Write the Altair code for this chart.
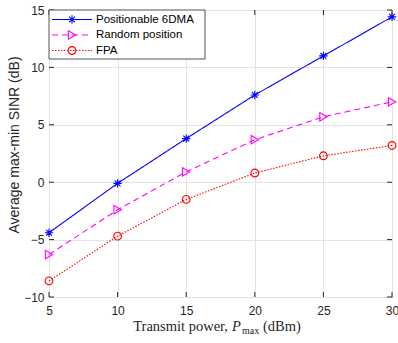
import altair as alt
import pandas as pd

# Transmit power (dBm) and average max-min SINR (dB) for each scheme
power = [5, 10, 15, 20, 25, 30]
sinr_6dma = [-4.4, -0.1, 3.8, 7.6, 11.0, 14.4]
sinr_random = [-6.3, -2.4, 0.9, 3.7, 5.7, 7.0]
sinr_fpa = [-8.6, -4.7, -1.5, 0.8, 2.3, 3.2]

series_names = ["Positionable 6DMA", "Random position", "FPA"]
x_ticks = [5, 10, 15, 20, 25, 30]
y_ticks = [-10, -5, 0, 5, 10, 15]

W, H = 343, 287
AXIS_COLOR = "#262626"
SANS = "Liberation Sans"
SERIF = "Liberation Serif"

# Asterisk marker (8 arms) as a custom symbol path
ASTERISK = "M-1,0L1,0M0,-1L0,1M-0.7,-0.7L0.7,0.7M-0.7,0.7L0.7,-0.7"

styles = [
    dict(name=series_names[0], y=sinr_6dma, color="#0000ff", dash=[1, 0], shape=ASTERISK, size=70),
    dict(name=series_names[1], y=sinr_random, color="#ff00ff", dash=[6, 4], shape="triangle-right", size=70),
    dict(name=series_names[2], y=sinr_fpa, color="#ff0000", dash=[1.5, 1.5], shape="circle", size=60),
]

x_scale = alt.Scale(domain=[5, 30], nice=False, zero=False)
y_scale = alt.Scale(domain=[-10, 15], nice=False, zero=False)

x_axis = alt.Axis(values=x_ticks, grid=True, ticks=False, domain=False, title=None,
                  labelFont=SANS, labelFontSize=12, labelColor=AXIS_COLOR, labelPadding=8,
                  gridColor="#e3e3e3", labelFlush=False)
y_axis = alt.Axis(values=y_ticks, grid=True, ticks=False, domain=False,
                  title="Average max-min SINR (dB)", titleFont=SANS, titleFontSize=14,
                  titleFontWeight="normal", titleColor=AXIS_COLOR,
                  titleX=-34.5, titleY=134.5, titleAngle=270, titleBaseline="middle",
                  titleAlign="center",
                  labelFont=SANS, labelFontSize=12, labelColor=AXIS_COLOR, labelPadding=5,
                  gridColor="#e3e3e3", labelFlush=False)


def xq(field):
    return alt.X(field, type="quantitative", scale=x_scale, axis=x_axis, title=None)


def yq(field):
    return alt.Y(field, type="quantitative", scale=y_scale, axis=y_axis,
                 title="Average max-min SINR (dB)")


layers = []

# Curves with markers
for s in styles:
    df = pd.DataFrame({"power": power, "sinr": s["y"]})
    enc = dict(x=xq("power"), y=yq("sinr"))
    line = alt.Chart(df).mark_line(color=s["color"], strokeWidth=1.1,
                                   strokeDash=s["dash"]).encode(**enc)
    pts = alt.Chart(df).mark_point(shape=s["shape"], size=s["size"], filled=False,
                                   color=s["color"], strokeWidth=1.1, opacity=1).encode(**enc)
    layers += [line, pts]

# Inward tick marks on all four sides
xt = pd.DataFrame({"power": x_ticks})
yt = pd.DataFrame({"sinr": y_ticks})
TL = 5
for y0, y1 in [(H, H - TL), (0, TL)]:
    layers.append(alt.Chart(xt).mark_rule(color=AXIS_COLOR, strokeWidth=1).encode(
        x=xq("power"), y=alt.value(y0), y2=alt.value(y1)))
for x0, x1 in [(0, TL), (W, W - TL)]:
    layers.append(alt.Chart(yt).mark_rule(color=AXIS_COLOR, strokeWidth=1).encode(
        y=yq("sinr"), x=alt.value(x0), x2=alt.value(x1)))

# Legend box
one = pd.DataFrame({"k": [0]})
layers.append(alt.Chart(one).mark_rect(fill="white", stroke=AXIS_COLOR, strokeWidth=0.8).encode(
    x=alt.value(0), x2=alt.value(156), y=alt.value(0), y2=alt.value(49)))
rows_y = [9.5, 25, 40.5]
for s, ry in zip(styles, rows_y):
    layers.append(alt.Chart(one).mark_rule(color=s["color"], strokeWidth=1.1,
                                           strokeDash=s["dash"]).encode(
        x=alt.value(3), x2=alt.value(43), y=alt.value(ry)))
    layers.append(alt.Chart(one).mark_point(shape=s["shape"], size=s["size"], filled=False,
                                            color=s["color"], strokeWidth=1.1, opacity=1).encode(
        x=alt.value(23), y=alt.value(ry)))
    layers.append(alt.Chart(one).mark_text(text=s["name"], font=SANS, fontSize=11.5,
                                           color="black", align="left", baseline="middle").encode(
        x=alt.value(47), y=alt.value(ry)))

# X-axis title with subscripted P_max
TY = 321
layers.append(alt.Chart(one).mark_text(text="Transmit power,", font=SERIF, fontSize=14.5,
                                       color=AXIS_COLOR, align="right", baseline="alphabetic").encode(
    x=alt.value(179), y=alt.value(TY)))
layers.append(alt.Chart(one).mark_text(text="P", font=SERIF, fontSize=14.5, fontStyle="italic",
                                       color=AXIS_COLOR, align="left", baseline="alphabetic").encode(
    x=alt.value(183), y=alt.value(TY)))
layers.append(alt.Chart(one).mark_text(text="max", font=SERIF, fontSize=10,
                                       color=AXIS_COLOR, align="left", baseline="alphabetic").encode(
    x=alt.value(193), y=alt.value(TY + 3)))
layers.append(alt.Chart(one).mark_text(text="(dBm)", font=SERIF, fontSize=14.5,
                                       color=AXIS_COLOR, align="left", baseline="alphabetic").encode(
    x=alt.value(214), y=alt.value(TY)))

chart = alt.layer(*layers).properties(
    width=W, height=H,
    autosize=alt.AutoSizeParams(type="none"),
    padding={"left": 49, "top": 10, "right": 6, "bottom": 46},
    background="white",
).configure_view(stroke=AXIS_COLOR, strokeWidth=1)

chart.save("out.html", embed_options={"renderer": "svg", "actions": False})
